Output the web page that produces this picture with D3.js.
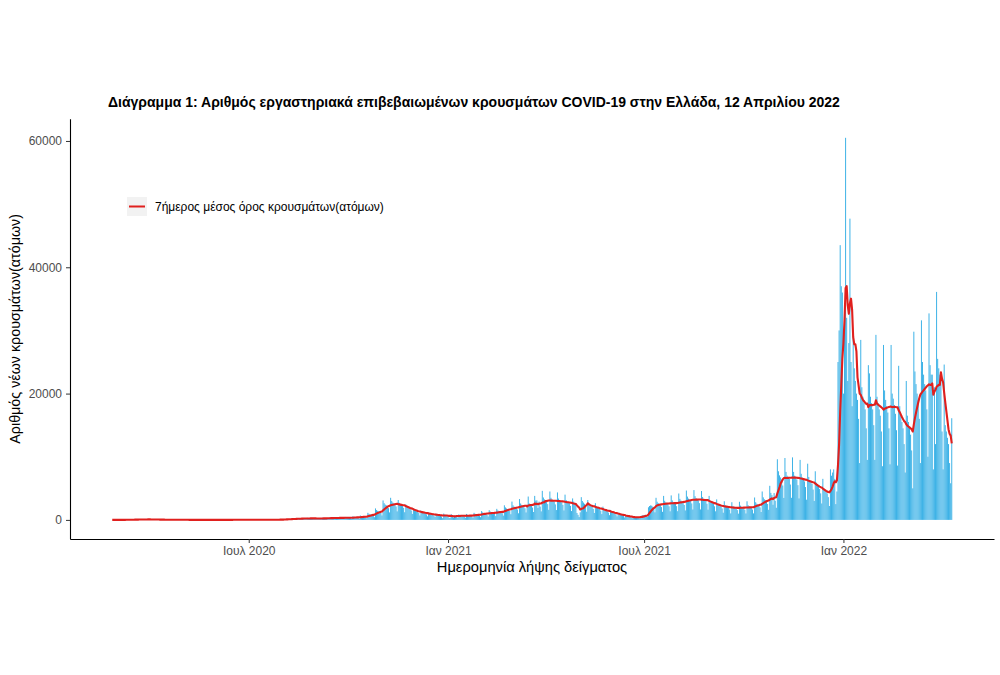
<!DOCTYPE html>
<html>
<head>
<meta charset="utf-8">
<script src="https://cdn.jsdelivr.net/npm/d3@7"></script>
<style>
  body { margin: 0; background: #fff; }
  svg text { font-family: "Liberation Sans", Arial, Helvetica, sans-serif; }
</style>
</head>
<body>
<div id="chart"></div>
<script>
// daily confirmed cases by sampling date, first day Wed 26 Feb 2020
const firstDay = Date.UTC(2020, 1, 26);

// Wed 26 Feb 2020 – Sun 3 Jan 2021 (after the first 5 days, one line per week Mon–Sun)
const days2020 = [
  1, 1, 0, 1, 0,
  2, 3, 4, 9, 12, 10, 6,
  18, 25, 22, 28, 30, 34, 20,
  45, 50, 58, 52, 66, 60, 38,
  82, 78, 70, 88, 92, 65, 45,
  95, 80, 72, 70, 64, 58, 35,
  62, 55, 48, 44, 40, 36, 22,
  35, 30, 28, 25, 20, 14, 8,
  28, 90, 40, 30, 22, 18, 12,
  22, 18, 15, 16, 12, 10, 6,
  14, 12, 10, 13, 9, 8, 5,
  12, 10, 9, 11, 8, 6, 4,
  10, 9, 8, 9, 7, 5, 3,
  8, 7, 6, 7, 5, 4, 3,
  9, 8, 10, 8, 6, 5, 3,
  14, 12, 10, 11, 9, 7, 5,
  18, 15, 14, 13, 12, 9, 6,
  19, 16, 14, 15, 13, 10, 6,
  22, 19, 17, 18, 15, 12, 8,
  28, 24, 22, 20, 18, 14, 9,
  26, 22, 20, 18, 17, 13, 9,
  32, 28, 26, 24, 22, 18, 12,
  55, 50, 48, 45, 42, 35, 22,
  140, 128, 120, 115, 112, 95, 62,
  230, 205, 190, 182, 175, 150, 95,
  300, 260, 240, 225, 215, 180, 120,
  330, 285, 262, 250, 235, 200, 130,
  305, 262, 240, 228, 215, 180, 118,
  350, 300, 275, 262, 248, 210, 135,
  420, 360, 330, 312, 295, 250, 160,
  450, 385, 352, 335, 318, 270, 172,
  465, 395, 365, 345, 328, 280, 178,
  560, 480, 440, 418, 398, 338, 215,
  700, 600, 550, 525, 498, 420, 270,
  1120, 960, 880, 840, 800, 680, 430,
  1820, 1560, 1430, 1365, 1300, 1105, 700,
  3080, 2640, 2420, 2310, 2200, 1870, 1190,
  3500, 3000, 2750, 2625, 2500, 2125, 1350,
  3150, 2700, 2475, 2360, 2250, 1910, 1215,
  2450, 2100, 1925, 1840, 1750, 1490, 945,
  1820, 1560, 1430, 1365, 1300, 1105, 700,
  1470, 1260, 1155, 1100, 1050, 890, 570,
  1190, 1020, 935, 890, 850, 722, 460,
  980, 840, 770, 735, 700, 520, 280,
  1000, 850, 780, 740, 520, 300, 360
];

// Mon 4 Jan 2021 – Sun 2 Jan 2022
const days2021 = [
  900, 780, 380, 700, 660, 560, 360,
  880, 760, 700, 660, 630, 540, 340,
  940, 810, 740, 700, 670, 570, 360,
  1120, 960, 880, 840, 800, 680, 430,
  1400, 1200, 1100, 1050, 1000, 850, 540,
  1540, 1320, 1210, 1155, 1100, 935, 600,
  1750, 1500, 1375, 1310, 1250, 1060, 680,
  2310, 1980, 1815, 1730, 1650, 1400, 900,
  2900, 2300, 2100, 2000, 1900, 1650, 1050,
  3300, 2600, 2380, 2270, 2150, 1840, 1180,
  2400, 3700, 2600, 2470, 2350, 1950, 1250,
  3800, 3060, 3100, 1900, 2900, 2100, 1350,
  4600, 3550, 3250, 3100, 2950, 2500, 1600,
  4500, 3500, 3200, 3050, 2900, 2450, 1560,
  4350, 3380, 3100, 2950, 2800, 2380, 1500,
  4000, 3150, 2880, 2750, 2620, 2220, 1400,
  3400, 2900, 2650, 2400, 1100, 800, 450,
  1200, 3600, 3000, 2750, 2550, 2100, 1300,
  3150, 2500, 2280, 2170, 2070, 1750, 1100,
  2650, 2070, 1900, 1800, 1720, 1460, 920,
  2100, 1660, 1520, 1450, 1380, 1170, 750,
  1580, 1240, 1140, 1080, 1030, 880, 560,
  1120, 890, 815, 780, 740, 630, 390,
  740, 595, 545, 520, 495, 420, 265,
  300, 520, 480, 470, 450, 380, 260,
  620, 700, 720, 760, 800, 700, 480,
  2000, 2200, 2300, 2250, 2100, 1800, 1200,
  3500, 2880, 2680, 2530, 2430, 2030, 1280,
  3800, 3030, 2780, 2660, 2530, 2150, 1360,
  3880, 3090, 2840, 2710, 2580, 2180, 1380,
  4180, 3330, 3060, 2920, 2780, 2360, 1500,
  4650, 3690, 3370, 3220, 3070, 2610, 1650,
  4720, 3750, 3430, 3270, 3120, 2650, 1660,
  4570, 3630, 3320, 3170, 3020, 2560, 1620,
  3800, 3040, 2780, 2660, 2530, 2150, 1360,
  3250, 2550, 2340, 2230, 2130, 1810, 1140,
  2950, 2320, 2120, 2030, 1930, 1640, 1030,
  2800, 2200, 2010, 1920, 1830, 1550, 990,
  2870, 2260, 2070, 1975, 1880, 1600, 1020,
  2950, 2320, 2120, 2030, 1930, 1640, 1030,
  3550, 2800, 2560, 2440, 2330, 1980, 1250,
  4500, 3570, 3270, 3120, 2970, 2520, 1600,
  5400, 4280, 3920, 2400, 4250, 3030, 1920,
  9600, 7700, 7050, 6720, 6400, 5450, 3480,
  9800, 7600, 7000, 6800, 6500, 5600, 3500,
  9900, 7600, 7000, 6700, 6400, 5500, 3400,
  9500, 7300, 6700, 6400, 6100, 5200, 3200,
  8900, 6800, 6300, 6000, 5700, 4800, 3000,
  7700, 5900, 5400, 5200, 4900, 4200, 2600,
  6500, 5000, 4600, 4400, 4200, 3600, 2200,
  8000, 7000, 7500, 8000, 6500, 2500, 4500,
  25000, 30000, 43500, 37000, 36000, 20000, 30000
];

// Mon 3 Jan 2022 – Mon 11 Apr 2022
const days2022 = [
  60500, 32000, 22000, 28000, 47700, 25000, 18000,
  30000, 24000, 22000, 20000, 19000, 16000, 9000,
  28500, 21000, 19500, 18500, 17500, 14500, 9500,
  24500, 23200, 19500, 18500, 17500, 15000, 9500,
  29300, 19500, 18500, 17500, 16500, 14000, 8500,
  27700, 20500, 19000, 18000, 17000, 14500, 8800,
  27700, 20000, 19200, 18200, 16800, 14200, 8600,
  24400, 18000, 16500, 15500, 14500, 12000, 7500,
  22000, 16500, 15500, 14500, 13500, 11000, 5000,
  29800, 23500, 21500, 20000, 19000, 16000, 9000,
  31600, 25000, 23000, 21500, 20500, 17500, 10000,
  32700, 24500, 23000, 23000, 8000, 21000, 12000,
  36100, 25500, 24000, 23000, 22000, 14000, 8000,
  24600, 15000, 14000, 13000, 12000, 9000, 5800,
  16100
];

const yTicks = [0, 20000, 40000, 60000];
const xTickDates = ["2020-07-01", "2021-01-01", "2021-07-01", "2022-01-01"];
const xTickLabels = ["Ιουλ 2020", "Ιαν 2021", "Ιουλ 2021", "Ιαν 2022"];

const title = "Διάγραμμα 1: Αριθμός εργαστηριακά επιβεβαιωμένων κρουσμάτων COVID-19 στην Ελλάδα, 12 Απριλίου 2022";
const legendLabel = "7ήμερος μέσος όρος κρουσμάτων(ατόμων)";

const width = 1000;
const height = 675;
const panel = { left: 70, right: 994, top: 118.7, bottom: 539 };
const barColor = "#3AB1E6";
const lineColor = "#E0201E";

const cases = days2020.concat(days2021, days2022);
const data = cases.map((v, i) => ({
  date: d3.utcDay.offset(new Date(firstDay), i),
  value: v
}));
// 7-day (trailing) mean
data.forEach((d, i) => {
  d.avg = d3.mean(cases.slice(Math.max(0, i - 6), i + 1));
});

const svg = d3.select("#chart")
  .append("svg")
  .attr("width", width)
  .attr("height", height)
  .style("background", "#fff");

const x = d3.scaleUtc()
  .domain([d3.utcDay.offset(data[0].date, -39), d3.utcDay.offset(data[data.length - 1].date, 39)])
  .range([panel.left, panel.right]);

const maxV = d3.max(cases);
const y = d3.scaleLinear()
  .domain([-0.05 * maxV, 1.05 * maxV])
  .range([panel.bottom, panel.top]);

const dayW = x(d3.utcDay.offset(data[0].date, 1)) - x(data[0].date);
const barW = dayW * 0.9;

svg.append("g")
  .selectAll("rect")
  .data(data)
  .enter()
  .append("rect")
  .attr("x", d => x(d.date) - barW / 2)
  .attr("y", d => y(d.value))
  .attr("width", barW)
  .attr("height", d => y(0) - y(d.value))
  .attr("fill", barColor);

const line = d3.line()
  .x(d => x(d.date))
  .y(d => y(d.avg));

svg.append("path")
  .datum(data)
  .attr("d", line)
  .attr("fill", "none")
  .attr("stroke", lineColor)
  .attr("stroke-width", 2.1)
  .attr("stroke-linejoin", "round");

// axes
const xAxis = svg.append("g")
  .attr("transform", `translate(0,${panel.bottom})`)
  .call(d3.axisBottom(x)
    .tickValues(xTickDates.map(s => new Date(s + "T00:00:00Z")))
    .tickFormat((d, i) => xTickLabels[i])
    .tickSize(4)
    .tickSizeOuter(0)
    .tickPadding(3));

const yAxis = svg.append("g")
  .attr("transform", `translate(${panel.left},0)`)
  .call(d3.axisLeft(y)
    .tickValues(yTicks)
    .tickFormat(d3.format("d"))
    .tickSize(4)
    .tickSizeOuter(0)
    .tickPadding(4));

[xAxis, yAxis].forEach(g => {
  g.select(".domain").attr("stroke", "#000").attr("stroke-width", 1.1);
  g.selectAll(".tick line").attr("stroke", "#333").attr("stroke-width", 1);
  g.selectAll(".tick text")
    .attr("fill", "#4d4d4d")
    .style("font-size", "12px")
    .style("font-family", "'Liberation Sans', Arial, sans-serif");
});

// titles
svg.append("text")
  .attr("x", 108)
  .attr("y", 107)
  .style("font-size", "14px")
  .style("font-weight", "bold")
  .attr("fill", "#000")
  .text(title);

svg.append("text")
  .attr("x", (panel.left + panel.right) / 2)
  .attr("y", 572)
  .attr("text-anchor", "middle")
  .style("font-size", "14.7px")
  .attr("fill", "#000")
  .text("Ημερομηνία λήψης δείγματος");

svg.append("text")
  .attr("transform", `translate(20,${(panel.top + panel.bottom) / 2}) rotate(-90)`)
  .attr("text-anchor", "middle")
  .style("font-size", "14.3px")
  .attr("fill", "#000")
  .text("Αριθμός νέων κρουσμάτων(ατόμων)");

// legend
const legend = svg.append("g");
legend.append("rect")
  .attr("x", 127)
  .attr("y", 197)
  .attr("width", 20)
  .attr("height", 19)
  .attr("fill", "#f2f2f2");
legend.append("line")
  .attr("x1", 129)
  .attr("x2", 145)
  .attr("y1", 206.5)
  .attr("y2", 206.5)
  .attr("stroke", lineColor)
  .attr("stroke-width", 2);
legend.append("text")
  .attr("x", 155)
  .attr("y", 211)
  .style("font-size", "12px")
  .attr("fill", "#000")
  .text(legendLabel);
</script>
</body>
</html>
